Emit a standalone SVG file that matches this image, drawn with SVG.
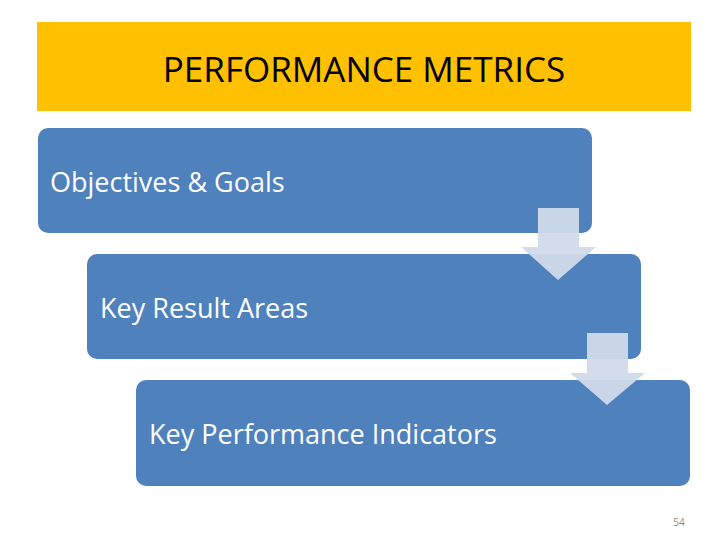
<svg xmlns="http://www.w3.org/2000/svg" width="728" height="546" viewBox="0 0 728 546">
<style>
.box{fill:#4F81BD}
.lbl{fill:#fff;font-family:"Open Sans","Liberation Sans",sans-serif;font-size:27px}
.arr{fill:#D0DAEA;opacity:0.95}
</style>
<rect width="728" height="546" fill="#fff"/>
<g id="title"><rect x="37" y="22" width="654" height="89" fill="#FFC000"/>
<text x="364" y="82" text-anchor="middle" font-family="'Open Sans','Liberation Sans',sans-serif" font-size="35" fill="#000">PERFORMANCE METRICS</text></g>
<g id="n1"><rect class="box" x="38" y="128" width="554" height="105" rx="10"/><text class="lbl" x="50" y="192">Objectives &amp; Goals</text></g>
<g id="n2"><rect class="box" x="87" y="254" width="554" height="105" rx="10"/><text class="lbl" x="100" y="318">Key Result Areas</text></g>
<g id="n3"><rect class="box" x="136" y="380" width="554" height="106" rx="10"/><text class="lbl" x="149" y="444">Key Performance Indicators</text></g>
<g id="connectors">
<polygon class="arr" points="538,208 579,208 579,247 596,247 558,280 521,247 538,247"/>
<polygon class="arr" points="587,333 628,333 628,373 645,373 607,405 570,373 587,373"/>
</g>
<text x="679" y="526" font-family="'Open Sans','Liberation Sans',sans-serif" font-size="10" fill="#888" text-anchor="middle">54</text>
</svg>
